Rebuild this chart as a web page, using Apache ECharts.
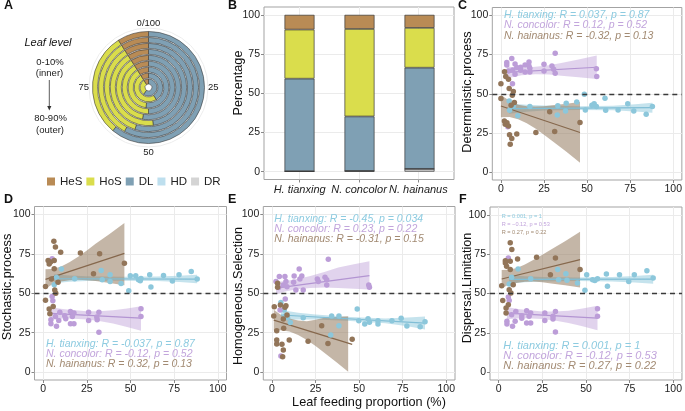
<!DOCTYPE html>
<html><head><meta charset="utf-8">
<script src="https://cdn.jsdelivr.net/npm/echarts@6/dist/echarts.min.js"></script>
<style>html,body{margin:0;padding:0;background:#fff}#c{width:685px;height:411px}</style>
</head><body><div id="c"></div>
<script>
const FONT = '"Liberation Sans", Arial, Helvetica, sans-serif';

// ---------- Panel A: rings (inner -> outer) ----------
const leafLevels = ['0-10%','10-20%','20-30%','30-40%','40-50%','50-60%','60-70%','70-80%','80-90%'];
const ringDR  = [0, 0, 0, 0, 0, 0, 0, 0, 0];
const ringHD  = [0, 0, 0, 0, 0, 0, 0, 0, 0];
const ringDL  = [60, 41, 52, 50, 53, 48, 55, 58, 61];
const ringHoS = [31, 50, 39, 41, 38, 43, 36, 33, 30];
const ringHeS = [9, 9, 9, 9, 9, 9, 9, 9, 9];

// ---------- Panel B: stacked bars ----------
const species = ['H. tianxing', 'N. concolor', 'N. hainanus'];
const barDR  = [0.3, 0.5, 1.8];
const barHD  = [0, 0, 0];
const barDL  = [59.0, 34.7, 64.5];
const barHoS = [31.3, 55.8, 25.4];
const barHeS = [9.4, 9.0, 8.3];
const pctTicks = [0, 25, 50, 75, 100];
const xTicks = [0, 25, 50, 75, 100];

// ---------- Panel C: Deterministic.process ----------
const cTianxing = [[4.8,45.4],[5,39.5],[7.3,42.3],[9.8,35.9],[16.8,41.8],[32.7,36.5],[33,42.3],[37.5,39],[37.9,44],[44,44.8],[48.4,49.7],[49,39.7],[52.8,42.7],[54.1,43.7],[55.4,41.8],[60.4,47.1],[60.8,39.5],[68,39.7],[73.6,43.7],[77.1,39],[84.3,36.9],[87.9,41.8]];
const cConcolor = [[3.4,69.9],[3.4,68.4],[4.4,64.5],[4,28.9],[6.3,72.4],[6.7,56.3],[6.9,65.2],[8.2,69],[9.2,66.7],[8.2,62.4],[11.5,65],[11.5,66.9],[14,68.4],[16.3,67.7],[16.3,70.3],[16.8,66.2],[16.8,63.9],[14,63.9],[25,68.8],[25,64.5],[29.6,67.7],[30.6,65.6],[31.5,75.8],[31.5,63.1],[55.4,66],[55.6,61]];
const cHainanus = [[0,56.3],[0,46.9],[2.1,64.1],[2.8,61],[4.4,59.2],[4.8,53.3],[5.9,42.7],[6.6,49],[7.2,51.5],[2,32.7],[2.5,30.6],[3.5,31.5],[4.4,29.5],[5,23.8],[5.4,17.8],[6.3,21.4],[9.2,24.4],[7.8,44.4],[20.3,25.3],[28.3,38.6],[31.2,25.9],[45.9,31.6]];
const cTianxingFit = [[4.8,40.5],[87.9,41.1]];
const cConcolorFit = [[3.4,63.6],[55.6,66.9]];
const cHainanusFit = [[0,42.2],[45.9,25.3]];
const cTianxingBand = [[4.8,37.3,43.8],[15,38.6,43],[25,39.3,42.5],[45,39.6,42],[65,39.4,42.4],[78,38.7,43.3],[87.9,37.9,44.2]];
const cConcolorBand = [[3.4,59.8,67.4],[12,61.8,66.4],[20,62.4,67.2],[28,62.2,68.2],[35,61.5,69.6],[45,60.6,71.8],[55.6,59.4,74.4]];
const cHainanusBand = [[0,35,49.2],[5,35.2,45.5],[10,33.8,43],[15,31.2,42],[20,27.8,41.8],[25,23.9,42.1],[30,19.7,42.7],[38,13,43.7],[45.9,6,44.8]];
const cLabels = ['H. tianxing: R = 0.037, p = 0.87','N. concolor: R = 0.12, p = 0.52','N. hainanus: R = -0.32, p = 0.13'];

// ---------- Panel D: Stochastic.process ----------
const dTianxing = [[6.3,55.4],[7.6,60],[10.4,65.3],[18,59.2],[33.2,64.5],[33.8,58.6],[38.3,61.7],[38.3,57.5],[44.6,56.2],[49,51.6],[49.9,61.1],[53,61.1],[54.6,58.6],[55.6,57.9],[56,59.4],[61,61.7],[61.7,53.9],[68.9,61.3],[74,57.7],[77.8,61.7],[84.8,63.8],[88.2,59]];
const dConcolor = [[5.1,71.9],[5.1,48],[5.5,45.2],[4.4,33.2],[4.4,30.7],[7,35.3],[7.6,29],[8.9,32.8],[9.5,38],[12.3,35.7],[12.9,33.8],[15.6,38.5],[15.6,30.7],[16.7,35.3],[17.6,37.4],[17.6,30.7],[26,38],[26,32.8],[30.7,34.9],[30.9,33.2],[31.9,38],[31.9,25.2],[56,40.2],[56,35.3]];
const dHainanus = [[1.3,54.3],[1.3,45.5],[2.8,70.8],[3.4,68.5],[4.2,69.8],[3.4,40],[3.8,37],[5.7,41.6],[6.1,82.9],[7,79.3],[6.3,70.8],[6.3,65.5],[6.6,52],[7.2,50],[4.7,59],[8.5,57],[10,76],[21.3,75.5],[32.3,75],[28.8,62.4],[46.5,69]];
const dTianxingFit = [[6.3,59.2],[88.2,59]];
const dConcolorFit = [[4.4,37.2],[56,34.2]];
const dHainanusFit = [[1.3,58.8],[46.5,75.3]];
const dTianxingBand = [[6.3,56.4,62],[15,57.3,61.2],[25,57.8,60.8],[45,58,60.4],[65,57.7,60.6],[78,57.1,61.1],[88.2,56.3,61.7]];
const dConcolorBand = [[4.4,33.2,41.2],[10,33.8,40.2],[15,34,39.6],[25,33.4,38.6],[32,32.4,38.6],[40,30.8,39.2],[48,28.6,40.3],[56,26.2,41.8]];
const dHainanusBand = [[1.3,52.8,65.2],[5,55.6,65.4],[10,57.5,66.8],[15,58.3,69.6],[20,58.5,73.2],[25,58.3,77.1],[30,57.8,81.4],[38,56.5,87.6],[46.5,55,94.5]];
const dLabels = ['H. tianxing: R = -0.037, p = 0.87','N. concolor: R = -0.12, p = 0.52','N. hainanus: R = 0.32, p = 0.13'];

// ---------- Panel E: Homogeneous.Selection ----------
const eTianxing = [[5.1,44.1],[7,39.4],[7.6,35.6],[8.9,34.5],[10.5,31.4],[17.9,34.5],[33.7,23.5],[34.2,35.6],[38.4,35.6],[38.4,29.4],[48.9,40],[49.8,32.6],[53.2,30.5],[55.1,33.9],[55.9,31.6],[60.8,32.6],[60.8,30.5],[68.8,32.6],[74.1,34.1],[77.4,29.2],[85,28.8],[87.8,32]];
const eConcolor = [[2.3,57.4],[4.2,60.6],[3.8,53.6],[4.6,39.4],[5.1,10.2],[6.5,55.3],[7.4,60.6],[8,57.4],[8.6,54.2],[7.6,46.4],[12.4,57],[12.7,61],[13.7,52.1],[15.6,65.3],[16,59.1],[17.1,61],[17.9,52.1],[26,59.1],[26.6,57.4],[30.4,60.2],[31.4,58.5],[31.4,55.3],[32.3,71.6],[55.5,55.3],[55.9,53.8]];
const eHainanus = [[1,35.6],[1.3,41.5],[3.2,56.4],[3.2,53.8],[2.7,26.3],[2.7,17.8],[2.7,20.3],[4.8,42.6],[5.7,17.6],[6.1,9.7],[6.5,14],[6.7,27.8],[6.5,33.7],[7.4,41.1],[8,42],[8.6,36.2],[9.9,20.3],[20.7,19.5],[28.5,29.4],[32.1,18.2],[46,20.8]];
const eTianxingFit = [[5.1,36.2],[87.8,31.1]];
const eConcolorFit = [[2.3,53.3],[55.9,61.2]];
const eHainanusFit = [[1,33],[46,17.6]];
const eTianxingBand = [[5.1,33,39.4],[15,33.3,37.7],[25,33.4,36.6],[45,32.4,35],[65,31,34],[78,29.1,34.6],[87.8,27,35.2]];
const eConcolorBand = [[2.3,49.3,57.3],[7,50.9,57.6],[12,52,58.5],[17,52.9,59.6],[22,53.4,61],[30,53.6,63.5],[38,53.3,66.3],[47,52.9,68.4],[55.9,52.3,70.3]];
const eHainanusBand = [[1,26.4,39.6],[5,26.6,36.3],[10,25.8,34],[15,23.5,32.8],[20,20.3,32.2],[25,16.5,33.2],[30,12.3,34.5],[37,6.3,35],[43.7,0.3,35.4]];
const eLabels = ['H. tianxing: R = -0.45, p = 0.034','N. concolor: R = 0.23, p = 0.22','N. hainanus: R = -0.31, p = 0.15'];

// ---------- Panel F: Dispersal.Limitation ----------
const fTianxing = [[6,56],[7.4,60.3],[11.1,65.6],[18.3,59.4],[33.8,65.2],[34.3,58.8],[38.5,62.6],[39.1,58.4],[45.1,56.7],[49.4,52],[50.4,62],[53.8,58.8],[55.1,58.2],[56.6,59.4],[61.7,62.4],[62.3,54.6],[69.2,62],[74.5,57.7],[77.7,62],[84.9,64.5],[88.5,59.9]];
const fConcolor = [[5.5,72.6],[5.5,47.8],[6,45.6],[4.7,32.3],[4.7,30.6],[7.4,36.5],[7.9,29.1],[9.4,32.3],[9.8,38.6],[13.2,35.9],[13.2,34.2],[16,39],[16,31.2],[17.4,35.5],[18.3,37.6],[18.3,31.2],[26.4,37.6],[26.4,32.9],[31.1,35.5],[31.1,33.8],[32.5,38.6],[32.5,25.5],[56.6,40.3],[56.6,35.5]];
const fHainanus = [[1.7,55],[2.3,45.6],[3.8,70.9],[3.8,69.4],[4.5,67.3],[4.2,40.8],[4.2,37.6],[5.5,42.9],[6.6,82.2],[7.5,77.9],[6.6,70.5],[6.6,65.2],[6,52.4],[7,50.3],[8.3,55.6],[10.8,72],[21.7,73],[32.5,72.6],[29.6,62],[46.6,65.2]];
const fTianxingFit = [[6,59],[88.5,59.1]];
const fConcolorFit = [[4.7,37.5],[56.6,34.4]];
const fHainanusFit = [[1.7,59.2],[46.6,71.5]];
const fTianxingBand = [[6,56.3,61.8],[15,57.2,60.9],[25,57.7,60.5],[45,57.9,60.2],[65,57.6,60.5],[78,57,61.1],[88.5,56.2,61.9]];
const fConcolorBand = [[4.7,33.6,41.4],[10,34.1,40.3],[15,34.3,39.6],[25,33.8,38.6],[32,32.8,38.6],[40,31.2,39],[48,29.1,40.4],[56.6,26.6,42.2]];
const fHainanusBand = [[1.7,53.4,65],[5,55.2,65.1],[10,56.7,66],[15,57.4,68.4],[20,57.6,71.4],[25,57.1,74.6],[30,56.4,78],[38,55.2,83.3],[46.6,53.8,89.2]];
const fLabels = ['H. tianxing: R = 0.001, p = 1','N. concolor: R = -0.12, p = 0.53','N. hainanus: R = 0.27, p = 0.22'];
const fSmallLabels = ['R = 0.001, p = 1','R = \u22120.12, p = 0.53','R = 0.27, p = 0.22'];

// ---------- styles ----------
const compColors = {HeS:'#B98B55', HoS:'#DADD4C', DL:'#7FA0B4', HD:'#BEDFEE', DR:'#D4D4D4'};
const spBlue   = {pt:'#8CC7DB', line:'#80BED6', band:'rgba(140,199,219,0.5)', text:'#8DCBE0'};
const spPurple = {pt:'#BC9DD8', line:'#B394D2', band:'rgba(188,157,216,0.45)', text:'#C2A5DC'};
const spBrown  = {pt:'#927559', line:'#86684D', band:'rgba(146,121,92,0.54)', text:'#A28A72'};
const TXT = '#222';
const BORDER = '#A3A3A3';
const GRIDLINE = '#EBEBEB';

const chart = echarts.init(document.getElementById('c'), null, {renderer:'canvas'});

const grids = [
  {left:264, top:7, width:190, height:172.5},       // B frame
  {left:492.3, top:7.5, width:191.7, height:172.5}, // C
  {left:34.5, top:206.5, width:192, height:173.5},  // D
  {left:263.3, top:206.5, width:191.7, height:173.5}, // E
  {left:490, top:207, width:193.5, height:173},     // F
  {left:269.5, top:7, width:180, height:172.5, show:false} // B bars (category bands)
].map(g => Object.assign({show:true, borderColor:BORDER, borderWidth:1, backgroundColor:'transparent'}, g));

function valAxis(gi, ticks, extra) {
  return Object.assign({
    type:'value', gridIndex:gi, min:-5, max:105,
    axisLine:{show:false, onZero:false},
    axisTick:{show:true, length:3, customValues:ticks, lineStyle:{color:'#888', width:1}},
    axisLabel:{customValues:ticks, fontSize:10.5, color:TXT, fontFamily:FONT, margin:4},
    splitLine:{show:true, lineStyle:{color:GRIDLINE, width:1}}
  }, extra || {});
}

const xAxes = [
  valAxis(0, [1,2,3], {min:0.4, max:3.6,
    axisLabel:{customValues:[1,2,3], formatter:v => species[Math.round(v)-1], fontSize:11, fontStyle:'italic', color:TXT, fontFamily:FONT, margin:5}}),
  valAxis(1, xTicks), valAxis(2, xTicks), valAxis(3, xTicks), valAxis(4, xTicks),
  {type:'category', gridIndex:5, data:species, show:false, boundaryGap:true}
];
const yAxes = [
  valAxis(0, pctTicks), valAxis(1, xTicks), valAxis(2, xTicks), valAxis(3, xTicks), valAxis(4, xTicks),
  {type:'value', gridIndex:5, min:-5, max:105, show:false, splitLine:{show:false}}
];

const series = [];
const comps = [['DR',ringDR,barDR],['HD',ringHD,barHD],['DL',ringDL,barDL],['HoS',ringHoS,barHoS],['HeS',ringHeS,barHeS]];
comps.forEach(([name, ring, bar]) => {
  series.push({
    name, type:'bar', coordinateSystem:'polar', stack:'ring', data:ring,
    barCategoryGap:'16%', itemStyle:{color:compColors[name], borderColor:'#3a3a3a', borderWidth:0.6},
    silent:true, z:2
  });
  series.push({
    name, type:'bar', xAxisIndex:5, yAxisIndex:5, stack:'bars', barWidth:30, data:bar,
    itemStyle:{color:compColors[name], borderColor:'#3a3a3a', borderWidth:0.7},
    silent:true, z:2
  });
});

function addPanel(gi, sets) {
  sets.forEach(s => {
    const band = s.band;
    series.push({
      type:'custom', xAxisIndex:gi, yAxisIndex:gi, data:band, silent:true, z:1, clip:true,
      encode:{x:0, y:[1,2]},
      renderItem:(params, api) => {
        if (params.dataIndex !== 0) return null;
        const up = band.map(r => api.coord([r[0], r[2]]));
        const lo = band.slice().reverse().map(r => api.coord([r[0], r[1]]));
        return {type:'polygon', shape:{points:up.concat(lo)}, style:{fill:s.c.band}};
      }
    });
  });
  sets.forEach(s => {
    series.push({type:'line', xAxisIndex:gi, yAxisIndex:gi, data:s.fit, symbol:'none', silent:true, z:2,
      lineStyle:{color:s.c.line, width:1.2}});
  });
  sets.forEach((s, k) => {
    const ser = {type:'scatter', xAxisIndex:gi, yAxisIndex:gi, data:s.pts, symbolSize:5.5, silent:true, z:3,
      itemStyle:{color:s.c.pt, opacity:1}};
    if (k === 0) {
      ser.markLine = {silent:true, symbol:['none','none'], label:{show:false},
        lineStyle:{type:[5,4], color:'#3a3a3a', width:1.3}, data:[{yAxis:50}], animation:false};
    }
    series.push(ser);
  });
}
addPanel(1, [
  {pts:cTianxing, fit:cTianxingFit, band:cTianxingBand, c:spBlue},
  {pts:cConcolor, fit:cConcolorFit, band:cConcolorBand, c:spPurple},
  {pts:cHainanus, fit:cHainanusFit, band:cHainanusBand, c:spBrown}]);
addPanel(2, [
  {pts:dTianxing, fit:dTianxingFit, band:dTianxingBand, c:spBlue},
  {pts:dConcolor, fit:dConcolorFit, band:dConcolorBand, c:spPurple},
  {pts:dHainanus, fit:dHainanusFit, band:dHainanusBand, c:spBrown}]);
addPanel(3, [
  {pts:eTianxing, fit:eTianxingFit, band:eTianxingBand, c:spBlue},
  {pts:eConcolor, fit:eConcolorFit, band:eConcolorBand, c:spPurple},
  {pts:eHainanus, fit:eHainanusFit, band:eHainanusBand, c:spBrown}]);
addPanel(4, [
  {pts:fTianxing, fit:fTianxingFit, band:fTianxingBand, c:spBlue},
  {pts:fConcolor, fit:fConcolorFit, band:fConcolorBand, c:spPurple},
  {pts:fHainanus, fit:fHainanusFit, band:fHainanusBand, c:spBrown}]);

// ---------- graphic text ----------
const g = [];
function txt(text, x, y, o) {
  g.push({type:'text', x, y, silent:true, z:100, rotation:(o && o.rot) || 0,
    style:Object.assign({text, fontFamily:FONT, fontSize:10.5, fill:TXT, align:'left', verticalAlign:'middle'}, (o && o.style) || {})});
}
const bold = {style:{fontSize:12.5, fontWeight:'bold', fill:'#111'}};
txt('A', 4, 6, bold); txt('B', 228, 6, bold); txt('C', 458, 6, bold);
txt('D', 4, 200, bold); txt('E', 228, 200, bold); txt('F', 459, 200, bold);

const ytitle = (t, x, y) => txt(t, x, y, {rot:Math.PI/2, style:{fontSize:12.7, align:'center', fill:'#111'}});
ytitle('Percentage', 238, 83);
ytitle('Deterministic.process', 467, 92);
ytitle('Stochastic.process', 7, 287);
ytitle('Homogeneous.Selection', 238, 296);
ytitle('Dispersal.Limitation', 467, 288);
txt('Leaf feeding proportion (%)', 369, 402, {style:{fontSize:12.7, align:'center', fill:'#111'}});

const spColors = [spBlue.text, spPurple.text, spBrown.text];
const italic = (size, color) => ({style:{fontSize:size, fontStyle:'italic', fill:color}});
cLabels.forEach((t,i) => txt(t, 504, 15.3 + i*10.2, italic(10.5, spColors[i])));
dLabels.forEach((t,i) => txt(t, 46, 344 + i*10.2, italic(10.5, spColors[i])));
eLabels.forEach((t,i) => txt(t, 274.3, 219.3 + i*10.1, italic(10.5, spColors[i])));
fLabels.forEach((t,i) => txt(t, 503.3, 345.7 + i*10, italic(11, spColors[i])));
fSmallLabels.forEach((t,i) => txt(t, 501.7, 216.7 + i*7.8, {style:{fontSize:5.6, fill:spColors[i]}}));

// Panel A side notes
txt('Leaf level', 48, 43, {style:{fontSize:11, fontStyle:'italic', align:'center', fill:'#111'}});
txt('0-10%', 50, 62, {style:{fontSize:9.5, align:'center'}});
txt('(inner)', 49.5, 73.5, {style:{fontSize:9.5, align:'center'}});
txt('80-90%', 50.5, 118.5, {style:{fontSize:9.5, align:'center'}});
txt('(outer)', 50, 130, {style:{fontSize:9.5, align:'center'}});
g.push({type:'line', silent:true, shape:{x1:49.3, y1:80, x2:49.3, y2:107}, style:{stroke:'#333', lineWidth:0.8}});
g.push({type:'polygon', silent:true, shape:{points:[[47.2,106],[51.4,106],[49.3,110.5]]}, style:{fill:'#333'}});
// faint outer circle of the polar panel
g.push({type:'circle', silent:true, z:-1, shape:{cx:148.5, cy:87.5, r:59.5}, style:{fill:'none', stroke:'#EDEDED', lineWidth:1}});

chart.setOption({
  animation:false,
  textStyle:{fontFamily:FONT},
  legend:{
    data:['HeS','HoS','DL','HD','DR'], left:42, top:170.5, icon:'rect', itemWidth:8, itemHeight:8, itemGap:4,
    itemStyle:{borderWidth:0}, textStyle:{fontSize:11.5, color:TXT, fontFamily:FONT}, selectedMode:false
  },
  polar:{center:[148.5, 87.5], radius:[3, 56.5]},
  angleAxis:{type:'value', min:0, max:100, interval:25, startAngle:90, clockwise:true,
    axisLine:{show:false}, axisTick:{show:false}, splitLine:{show:false},
    axisLabel:{formatter:v => v === 0 ? '0/100' : (v === 100 ? '' : String(v)), fontSize:9.5, color:TXT, margin:3, fontFamily:FONT}},
  radiusAxis:{type:'category', data:leafLevels, axisLine:{show:false}, axisTick:{show:false}, axisLabel:{show:false}, splitLine:{show:false}},
  grid:grids, xAxis:xAxes, yAxis:yAxes, series, graphic:g
});
</script></body></html>
